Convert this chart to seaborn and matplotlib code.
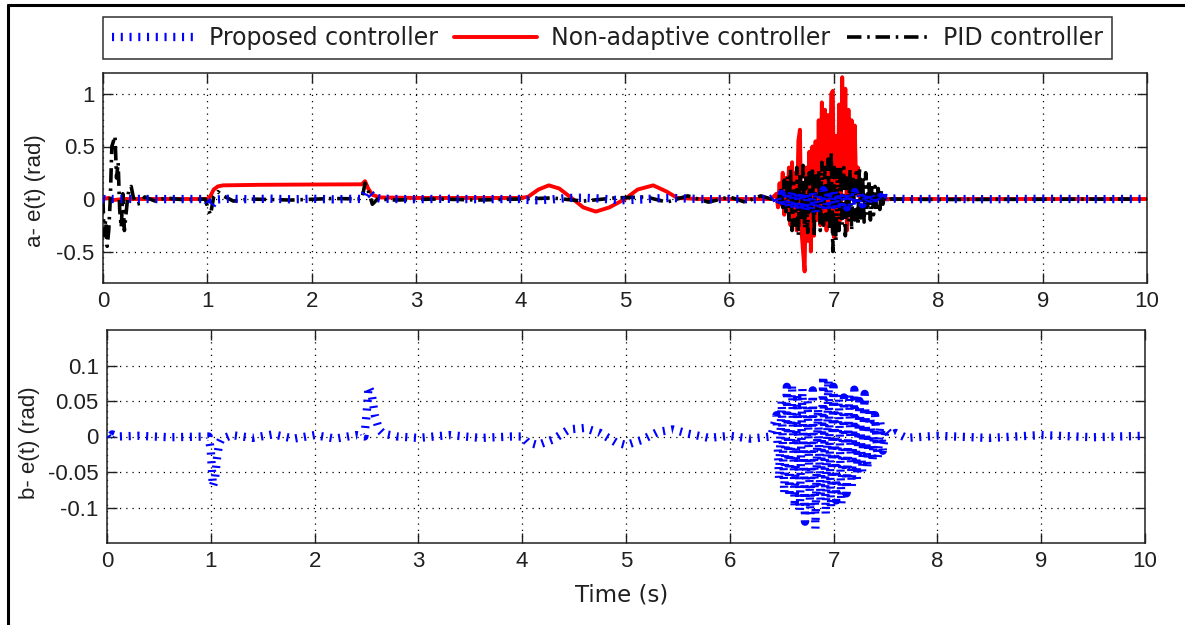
import numpy as np
import pandas as pd
import seaborn as sns
import matplotlib
matplotlib.use("Agg")
import matplotlib.pyplot as plt
from matplotlib.lines import Line2D

# ---------------------------------------------------------------- data
# Proposed controller tracking error (rad)
t_prop = [0.00, 0.02, 0.05, 0.10, 0.30, 0.60, 0.98, 1.00, 1.02, 1.04, 1.06, 1.08, 1.10,
          1.20, 1.40, 1.60, 1.80, 2.00, 2.20, 2.40, 2.48, 2.50, 2.52, 2.55, 2.58, 2.62,
          2.66, 2.80, 3.00, 3.30, 3.60, 3.90, 4.00, 4.05, 4.15, 4.30, 4.45, 4.60, 4.75,
          4.90, 5.00, 5.15, 5.30, 5.45, 5.60, 5.80, 6.00, 6.20, 6.40,
          6.450, 6.475, 6.500, 6.525, 6.550, 6.575, 6.600, 6.625, 6.650, 6.675, 6.700,
          6.725, 6.750, 6.775, 6.800, 6.825, 6.850, 6.875, 6.900, 6.925, 6.950, 6.975,
          7.000, 7.025, 7.050, 7.075, 7.100, 7.125, 7.150, 7.175, 7.200, 7.225, 7.250,
          7.275, 7.300, 7.325, 7.350, 7.375, 7.400, 7.425, 7.450, 7.475, 7.500,
          7.55, 7.60, 7.70, 8.00, 8.50, 9.00, 9.50, 10.00]
e_prop = [0.000, -0.004, 0.003, 0.000, 0.001, -0.001, 0.000, -0.020, -0.070, -0.060, -0.030,
          -0.010, -0.004, 0.002, -0.002, 0.003, -0.003, 0.002, -0.003, 0.002, 0.000, 0.030,
          0.070, 0.060, 0.030, 0.010, 0.004, 0.000, -0.002, 0.002, -0.002, 0.000, 0.000,
          -0.008, -0.012, -0.004, 0.010, 0.012, 0.005, -0.008, -0.012, -0.005, 0.006, 0.010,
          0.004, -0.002, 0.001, -0.003, 0.000,
          0.030, -0.060, 0.050, -0.080, 0.070, -0.085, 0.073, -0.100, 0.060, -0.105, 0.068,
          -0.120, 0.050, -0.110, 0.065, -0.130, 0.040, -0.090, 0.085, -0.110, 0.080, -0.100,
          0.070, -0.090, 0.060, -0.095, 0.055, -0.080, 0.060, -0.070, 0.066, -0.060, 0.050,
          -0.050, 0.060, -0.045, 0.040, -0.035, 0.030, -0.030, 0.020, -0.020, 0.010,
          0.002, 0.005, -0.002, 0.001, -0.002, 0.002, -0.001, 0.001]

# Non-adaptive controller tracking error (rad)
t_nonad = [0.00, 0.05, 0.10, 0.20, 0.50, 1.00, 1.03, 1.06, 1.10, 1.15, 1.50, 2.00, 2.48,
           2.51, 2.54, 2.58, 2.65, 3.00, 4.00, 4.07, 4.17, 4.27, 4.37, 4.50, 4.60, 4.72,
           4.85, 5.00, 5.12, 5.27, 5.40, 5.50, 5.70, 6.40,
           6.450, 6.465, 6.480, 6.495, 6.510, 6.525, 6.540, 6.555, 6.570, 6.585, 6.600,
           6.615, 6.630, 6.645, 6.660, 6.675, 6.690, 6.705, 6.720, 6.735, 6.750, 6.765,
           6.780, 6.795, 6.810, 6.825, 6.840, 6.855, 6.870, 6.885, 6.900, 6.915, 6.930,
           6.945, 6.960, 6.975, 6.990, 7.005, 7.020, 7.035, 7.050, 7.065, 7.080, 7.095,
           7.110, 7.125, 7.140, 7.155, 7.170, 7.185, 7.200, 7.215, 7.230, 7.245, 7.300,
           10.00]
e_nonad = [0.000, 0.010, -0.010, 0.000, 0.000, 0.000, 0.030, 0.090, 0.120, 0.130, 0.135,
           0.138, 0.140, 0.170, 0.100, 0.040, 0.015, 0.010, 0.010, 0.020, 0.090, 0.130,
           0.100, 0.000, -0.080, -0.120, -0.080, 0.000, 0.090, 0.130, 0.070, 0.010, 0.000,
           0.000,
           0.05, -0.08, 0.15, -0.05, 0.25, -0.15, 0.20, -0.10, 0.30, -0.25, 0.35,
           -0.20, 0.25, -0.30, 0.55, 0.66, -0.30, -0.50, -0.69, 0.30, -0.40, 0.45,
           -0.50, 0.50, -0.35, 0.55, -0.20, 0.75, -0.25, 0.92, -0.15, 0.85, -0.30,
           0.80, -0.20, 1.00, 1.03, -0.37, 0.60, -0.30, 0.90, -0.20, 1.16, 0.20,
           1.05, -0.30, 0.85, 0.00, 0.75, 0.10, 0.70, 0.05, 0.30, 0.02, 0.00,
           0.00]

# PID controller tracking error (rad)
t_pid = [0.000, 0.010, 0.025, 0.040, 0.055, 0.070, 0.085, 0.100, 0.115, 0.130, 0.145,
         0.160, 0.175, 0.190, 0.205, 0.220, 0.235, 0.250, 0.270, 0.290, 0.320, 0.360,
         0.400, 0.50, 0.60, 0.80, 0.98, 1.01, 1.03, 1.06, 1.10, 1.15, 1.25, 1.40, 1.80,
         2.20, 2.48, 2.51, 2.54, 2.58, 2.63, 2.80, 3.20, 3.60, 4.00, 4.30, 4.60, 4.90,
         5.20, 5.40, 5.60, 5.80, 6.00, 6.15, 6.30, 6.40,
         6.465, 6.480, 6.495, 6.510, 6.525, 6.540, 6.555, 6.570, 6.585, 6.600, 6.615,
         6.630, 6.645, 6.660, 6.675, 6.690, 6.705, 6.720, 6.735, 6.750, 6.765, 6.780,
         6.795, 6.810, 6.825, 6.840, 6.855, 6.870, 6.885, 6.900, 6.915, 6.930, 6.945,
         6.960, 6.975, 6.990, 7.005, 7.020, 7.035, 7.050, 7.065, 7.080, 7.095, 7.110,
         7.125, 7.140, 7.155, 7.170, 7.185, 7.200, 7.215, 7.230, 7.245, 7.260, 7.275,
         7.290, 7.305, 7.320, 7.335, 7.350, 7.365, 7.380, 7.395, 7.410, 7.425, 7.440,
         7.455, 7.470, 7.485, 7.500, 7.550, 8.00, 10.00]
e_pid = [0.00, -0.35, -0.20, -0.45, -0.30, 0.00, 0.50, 0.55, 0.60, 0.20, 0.35,
         -0.10, -0.27, 0.05, -0.30, -0.15, 0.00, 0.10, 0.12, 0.02, -0.05, -0.04,
         0.02, -0.02, 0.01, -0.01, 0.00, -0.10, -0.15, 0.02, 0.07, 0.03, -0.02, 0.00, -0.01,
         0.005, 0.00, 0.15, 0.08, -0.05, 0.00, -0.01, 0.00, -0.01, 0.00, 0.01, -0.02, 0.01,
         0.02, -0.03, 0.03, -0.03, 0.02, -0.03, 0.03, 0.00,
         0.02, -0.05, 0.12, -0.08, 0.18, -0.12, 0.22, -0.20, 0.28, -0.30, 0.15,
         -0.25, 0.30, -0.35, 0.25, -0.20, 0.32, -0.28, 0.20, -0.32, 0.25, -0.15,
         0.30, -0.35, 0.22, -0.10, 0.28, -0.30, 0.35, -0.25, 0.30, -0.20, 0.38,
         -0.30, 0.45, -0.50, 0.30, -0.40, 0.28, -0.30, 0.32, -0.25, 0.30, -0.35,
         0.20, -0.22, 0.28, -0.30, 0.22, -0.20, 0.25, -0.25, 0.30, -0.18, 0.22,
         -0.22, 0.25, -0.15, 0.18, -0.20, 0.15, -0.15, 0.12, -0.12, 0.10, -0.10,
         0.08, -0.05, 0.04, -0.02, 0.00, -0.005, 0.00]

series_labels = ["Proposed controller", "Non-adaptive controller", "PID controller"]
x_ticks = [0, 1, 2, 3, 4, 5, 6, 7, 8, 9, 10]
x_ticklabels = ["0", "1", "2", "3", "4", "5", "6", "7", "8", "9", "10"]
ya_ticks = [-0.5, 0, 0.5, 1]
ya_ticklabels = ["-0.5", "0", "0.5", "1"]
yb_ticks = [-0.1, -0.05, 0, 0.05, 0.1]
yb_ticklabels = ["-0.1", "-0.05", "0", "0.05", "0.1"]

# ---------------------------------------------------------------- style
sns.set_theme(style="white")
plt.rcParams["font.family"] = ["Liberation Sans", "DejaVu Sans"]
plt.rcParams["axes.unicode_minus"] = False

df_prop = pd.DataFrame({"t": t_prop, "e": e_prop})
df_nonad = pd.DataFrame({"t": t_nonad, "e": e_nonad})
df_pid = pd.DataFrame({"t": t_pid, "e": e_pid})

BLUE, RED, BLACK = "#0000ff", "#ff0000", "#000000"
# fine dotted blue trace: short butt-capped dashes on a wide stroke give
# thin bars drawn across the path
prop_kw = dict(color=BLUE, linewidth=6.0, linestyle=(0, (0.25, 0.8)),
               dash_capstyle="butt", zorder=4)
nonad_kw = dict(color=RED, linewidth=2.8, linestyle="-", zorder=2)
pid_kw = dict(color=BLACK, linewidth=2.6, linestyle=(0, (4.0, 1.6, 0.7, 1.6)),
              dash_capstyle="butt", zorder=3)

fig = plt.figure(figsize=(11.85, 6.25), dpi=100)
ax_a = fig.add_axes([0.0869, 0.5472, 0.8811, 0.3360])
ax_b = fig.add_axes([0.0903, 0.1312, 0.8759, 0.3408])

line_opts = dict(sort=False, estimator=None, legend=False)

# upper panel: all three controllers
sns.lineplot(data=df_nonad, x="t", y="e", ax=ax_a, **line_opts, **nonad_kw)
sns.lineplot(data=df_pid, x="t", y="e", ax=ax_a, **line_opts, **pid_kw)
sns.lineplot(data=df_prop, x="t", y="e", ax=ax_a, **line_opts, **prop_kw)

# lower panel: proposed controller in detail
sns.lineplot(data=df_prop, x="t", y="e", ax=ax_b, **line_opts, **prop_kw)

tick_font = 16
for ax, yt, ytl, ylim in ((ax_a, ya_ticks, ya_ticklabels, (-0.8, 1.2)),
                          (ax_b, yb_ticks, yb_ticklabels, (-0.15, 0.15))):
    ax.set_xlim(0, 10)
    ax.set_ylim(*ylim)
    ax.set_xticks(x_ticks)
    ax.set_xticklabels(x_ticklabels)
    ax.set_yticks(yt)
    ax.set_yticklabels(ytl)
    ax.grid(True, color="black", linestyle=(0, (1, 4)), linewidth=0.9)
    ax.tick_params(direction="in", length=7, width=1.0, bottom=True, left=True,
                   top=True, right=True, labelsize=tick_font, colors="#202020", pad=6)
    for sp in ax.spines.values():
        sp.set_color("#202020")
        sp.set_linewidth(1.1)
    ax.set_xlabel("")

ax_a.set_ylabel("a- e(t) (rad)", fontsize=16, color="#202020")
ax_a.yaxis.set_label_coords(-0.065, 0.44)
ax_a.yaxis.label.set_va("center")
ax_b.set_ylabel("b- e(t) (rad)", fontsize=16, color="#202020")
ax_b.yaxis.set_label_coords(-0.075, 0.47)
ax_b.yaxis.label.set_va("center")
ax_b.set_xlabel("Time (s)", fontsize=16.5, family="DejaVu Sans", color="#202020")
ax_b.xaxis.set_label_coords(0.496, -0.244)
ax_b.xaxis.label.set_va("center")

handles = [Line2D([], [], **{k: v for k, v in prop_kw.items() if k != "zorder"}),
           Line2D([], [], **{k: v for k, v in nonad_kw.items() if k != "zorder"}),
           Line2D([], [], **{k: v for k, v in pid_kw.items() if k != "zorder"})]
leg = fig.legend(handles, series_labels, loc="upper center",
                 bbox_to_anchor=(0.5127, 1 - 17 / 625), borderaxespad=0.0,
                 ncol=3, frameon=True, fancybox=False, edgecolor="#303030",
                 framealpha=1, borderpad=0.38, handlelength=3.5, handletextpad=0.6,
                 columnspacing=0.7, prop={"family": "DejaVu Sans", "size": 17})
leg.get_frame().set_linewidth(1.1)
for txt in leg.get_texts():
    txt.set_color("#202020")

# outer frame of the figure (left and top edges)
fig.add_artist(Line2D([8 / 1185, 8 / 1185], [0, 1 - 5 / 625], transform=fig.transFigure,
                      color="black", linewidth=2.2))
fig.add_artist(Line2D([8 / 1185, 1], [1 - 5 / 625, 1 - 5 / 625], transform=fig.transFigure,
                      color="black", linewidth=2.2))

fig.savefig("out.png", dpi=100)
